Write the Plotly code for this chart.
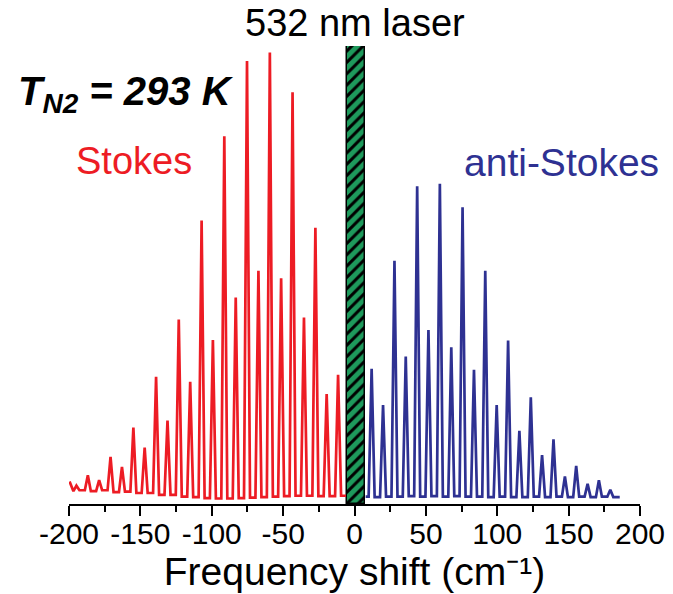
import plotly.graph_objects as go

# ---------------- data ----------------
# Stokes (red) rotational Raman lines: shift (cm-1) and peak intensity (normalised)
stokes_shift = [-194.8, -186.8, -178.9, -170.9, -162.9, -154.9, -147.0, -139.0,
                -131.0, -123.1, -115.1, -107.1, -99.2, -91.2, -83.2, -75.3,
                -67.3, -59.3, -51.4, -43.4, -35.4, -27.4, -19.5, -11.5]
stokes_int = [0.040, 0.063, 0.052, 0.103, 0.081, 0.167, 0.123, 0.278,
              0.182, 0.403, 0.267, 0.619, 0.358, 0.803, 0.451, 0.967,
              0.509, 0.986, 0.493, 0.899, 0.407, 0.603, 0.240, 0.282]
# baseline level around each line (before the first, between lines, after the last)
stokes_valley = [0.028, 0.030, 0.028, 0.030, 0.026, 0.027, 0.024, 0.024, 0.020,
                 0.020, 0.016, 0.015, 0.013, 0.012, 0.012, 0.013, 0.014,
                 0.015, 0.016, 0.017, 0.018, 0.018, 0.017, 0.017, 0.018]
stokes_start = (-199.6, 0.049)
stokes_end = (-6.0, 0.018)

# anti-Stokes (blue) lines
anti_shift = [12.0, 20.0, 28.0, 35.9, 43.9, 51.8, 59.8, 67.8, 75.7, 83.7, 91.6,
              99.6, 107.6, 115.5, 123.5, 131.4, 139.4, 147.4, 155.3, 163.3, 171.2, 179.2]
anti_int = [0.295, 0.216, 0.531, 0.322, 0.694, 0.380, 0.699, 0.342, 0.648, 0.293, 0.509,
            0.216, 0.357, 0.160, 0.233, 0.107, 0.141, 0.060, 0.083, 0.044, 0.052, 0.031]
anti_valley = [0.016, 0.015, 0.016, 0.016, 0.017, 0.016, 0.017, 0.016, 0.017, 0.016, 0.016,
               0.015, 0.016, 0.015, 0.015, 0.016, 0.015, 0.016, 0.015, 0.016, 0.015, 0.016,
               0.015]
anti_start = (7.8, 0.016)
anti_end = (185.8, 0.015)

# laser line marker
laser_pos = [0.8]
laser_height = [1.0]

# axis ticks
tick_vals = [-200, -150, -100, -50, 0, 50, 100, 150, 200]
tick_text = ["-200", "-150", "-100", "-50", "0", "50", "100", "150", "200"]

# ---------------- styling ----------------
LINE_HALF_BASE = 2.1   # half width of each drawn line at its base (cm-1), a drawing style
RED = "#ED1C24"
BLUE = "#2E3192"
GREEN = "#1E9A5C"
FONT = "Liberation Sans, Arial, Helvetica, sans-serif"


def build_trace(start, shifts, ints, valleys, end):
    xs, ys = [start[0]], [start[1]]
    for i, (s, h) in enumerate(zip(shifts, ints)):
        xs += [s - LINE_HALF_BASE, s, s + LINE_HALF_BASE]
        ys += [valleys[i], h, valleys[i + 1]]
    xs.append(end[0])
    ys.append(end[1])
    return xs, ys


sx, sy = build_trace(stokes_start, stokes_shift, stokes_int, stokes_valley, stokes_end)
ax, ay = build_trace(anti_start, anti_shift, anti_int, anti_valley, anti_end)

fig = go.Figure()
fig.add_trace(go.Bar(
    x=laser_pos, y=laser_height, base=0, width=12.6,
    marker=dict(color=GREEN, line=dict(color="black", width=1.5),
                pattern=dict(shape="/", fgcolor="black", bgcolor=GREEN,
                             size=8, solidity=0.38, fillmode="replace")),
    showlegend=False, hoverinfo="skip"))
fig.add_trace(go.Scatter(x=sx, y=sy, mode="lines",
                         line=dict(color=RED, width=2.7), showlegend=False))
fig.add_trace(go.Scatter(x=ax, y=ay, mode="lines",
                         line=dict(color=BLUE, width=2.7), showlegend=False))

fig.update_layout(
    width=673, height=594,
    margin=dict(l=69, r=33, t=46, b=90, autoexpand=False),
    paper_bgcolor="white", plot_bgcolor="white",
    font=dict(family=FONT, color="black"),
    bargap=0,
    xaxis=dict(range=[-200, 200], tickvals=tick_vals, ticktext=tick_text,
               automargin=False,
               ticks="outside", ticklen=10, tickwidth=2, tickcolor="black",
               ticklabelstandoff=-8,
               showline=True, linewidth=2, linecolor="black",
               showgrid=False, zeroline=False,
               tickfont=dict(size=30, family=FONT, color="black"),
               minor=dict(ticks="outside", dtick=25, tick0=0, ticklen=6,
                          tickwidth=2, tickcolor="black", showgrid=False),
               title=dict(text="Frequency shift (cm\u207b\u00b9)",
                          font=dict(size=39, family=FONT, color="black"),
                          standoff=0)),
    yaxis=dict(range=[0, 1.0], visible=False, showgrid=False, zeroline=False,
               automargin=False),
    annotations=[
        dict(text="532 nm laser", x=0.2, xref="x", y=1.05, yref="paper",
             xanchor="center", yanchor="middle", showarrow=False,
             font=dict(size=38, family=FONT, color="black")),
        dict(text="<b><i>T<sub>N2</sub> = 293 K</i></b>", x=-0.093, xref="paper",
             y=0.895, yref="paper", xanchor="left", yanchor="middle", showarrow=False,
             font=dict(size=40, family=FONT, color="black")),
        dict(text="Stokes", x=0.114, xref="paper", y=0.749, yref="paper",
             xanchor="center", yanchor="middle", showarrow=False,
             font=dict(size=38, family=FONT, color=RED)),
        dict(text="anti-Stokes", x=0.863, xref="paper", y=0.746, yref="paper",
             xanchor="center", yanchor="middle", showarrow=False,
             font=dict(size=39, family=FONT, color=BLUE)),
    ],
)

fig.write_html("out.html")
